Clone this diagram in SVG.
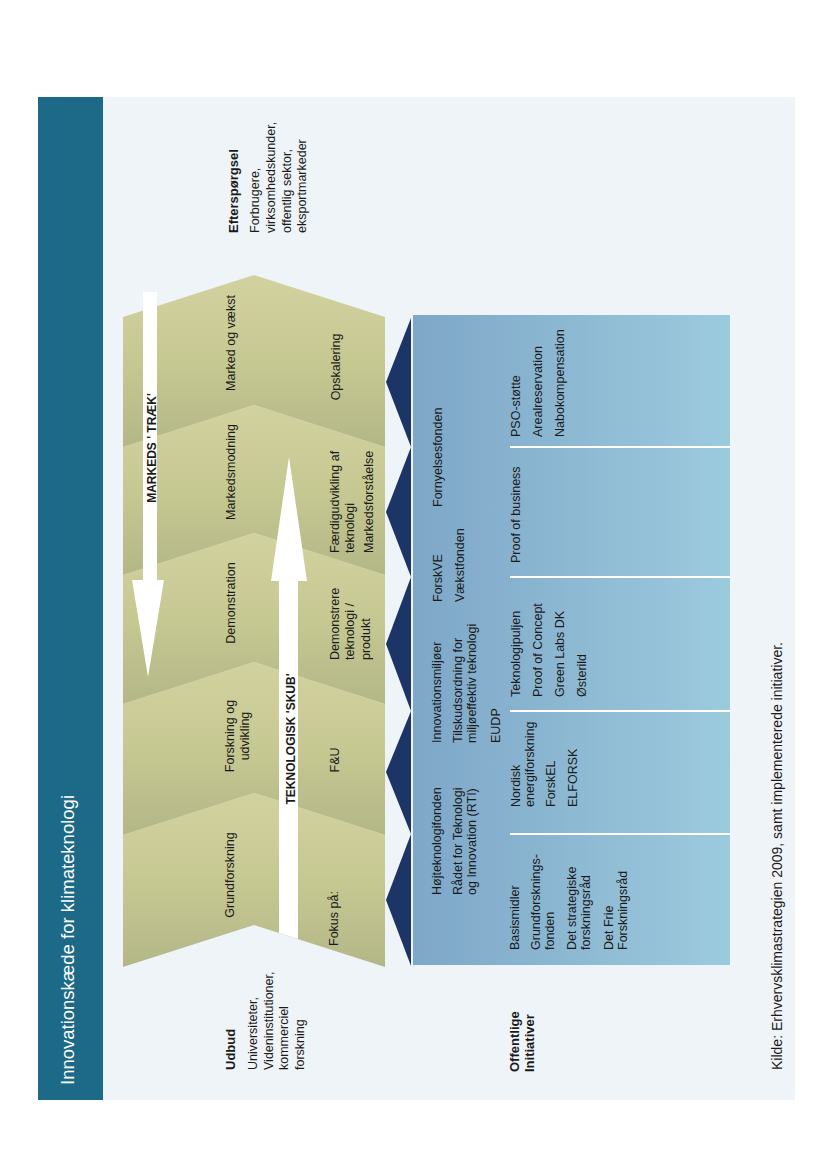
<svg xmlns="http://www.w3.org/2000/svg" width="826" height="1169" viewBox="0 0 826 1169">
<defs>
<linearGradient id="chev" x1="0" y1="0" x2="0" y2="1">
<stop offset="0" stop-color="#d2d29e"/>
<stop offset="0.55" stop-color="#c5c791"/>
<stop offset="1" stop-color="#b3b787"/>
</linearGradient>
<linearGradient id="boxg" x1="0" y1="0" x2="1" y2="0">
<stop offset="0" stop-color="#7ea7c8"/>
<stop offset="1" stop-color="#9ccadd"/>
</linearGradient>
<style>
.t{font-family:"Liberation Sans",Arial,sans-serif;font-size:12.5px;fill:#1a1a1a}
.b{font-weight:bold;font-size:13px}
.m{text-anchor:middle}
.title{fill:#ffffff;font-size:18.5px}
.foot{font-size:14px}
.chev{fill:url(#chev)}
.navy{fill:#1d3566}
.sep{stroke:#ffffff;stroke-width:2}
.arrow{fill:#ffffff}
</style>
</defs>
<rect x="0" y="0" width="826" height="1169" fill="#ffffff"/>
<rect x="103" y="97" width="692" height="1003" fill="#eef4f7"/>
<g id="header">
<rect x="38" y="97" width="65" height="1003" fill="#1c6a87"/>
</g>
<g id="stages">
<polygon id="stage-grundforskning" class="chev" points="123,967 254,925 385,967 385,835 254,793 123,835"/>
<polygon id="stage-forskning" class="chev" points="123,835 254,793 385,835 385,704 254,662 123,704"/>
<polygon id="stage-demonstration" class="chev" points="123,704 254,662 385,704 385,575 254,533 123,575"/>
<polygon id="stage-markedsmodning" class="chev" points="123,575 254,533 385,575 385,447 254,405 123,447"/>
<polygon id="stage-marked" class="chev" points="123,447 254,405 385,447 385,317 254,275 123,317"/>
</g>
<g id="connectors">
<g id="skub">
<polygon class="arrow" points="279,578 298,578 298,939 279,933"/>
<polygon class="arrow" points="271,581 289,457 307,581"/>
</g>
<g id="traek">
<rect class="arrow" x="143" y="292" width="14" height="290"/>
<polygon class="arrow" points="132,580 148,677 164,580"/>
</g>
</g>
<g id="initiatives">
<rect id="initiatives-box" x="413" y="315" width="317" height="650" fill="url(#boxg)"/>
<polygon class="navy" points="411,318 386,382 411,447"/>
<polygon class="navy" points="411,447 386,512 411,577"/>
<polygon class="navy" points="411,577 386,644 411,711"/>
<polygon class="navy" points="411,711 386,772 411,834"/>
<polygon class="navy" points="411,834 386,900 411,966"/>
<line class="sep" x1="510" y1="447" x2="730" y2="447"/>
<line class="sep" x1="510" y1="577" x2="730" y2="577"/>
<line class="sep" x1="510" y1="711" x2="730" y2="711"/>
<line class="sep" x1="510" y1="834" x2="730" y2="834"/>
</g>
<g id="labels" transform="translate(0,1169) rotate(-90)">
<g id="title-text"><text class="t title" x="84" y="74">Innovationskæde for klimateknologi</text></g>
<g id="efterspoergsel">
<text class="t b" x="936" y="238">Efterspørgsel</text>
<text class="t" x="936" y="259">Forbrugere,</text>
<text class="t" x="936" y="275">virksomhedskunder,</text>
<text class="t" x="936" y="291">offentlig sektor,</text>
<text class="t" x="936" y="306">eksportmarkeder</text>
</g>
<g id="udbud">
<text class="t b" x="99" y="235">Udbud</text>
<text class="t" x="99" y="257">Universiteter,</text>
<text class="t" x="99" y="273">Videninstitutioner,</text>
<text class="t" x="99" y="288">kommerciel</text>
<text class="t" x="99" y="304">forskning</text>
</g>
<g id="offentlige">
<text class="t b" x="97" y="519">Offentlige</text>
<text class="t b" x="97" y="534">Initiativer</text>
</g>
<g id="stage-labels">
<text class="t m" x="294" y="234">Grundforskning</text>
<text class="t m" x="433" y="234">Forskning og</text>
<text class="t m" x="433" y="249">udvikling</text>
<text class="t m" x="566" y="235">Demonstration</text>
<text class="t m" x="697" y="235">Markedsmodning</text>
<text class="t m" x="826" y="235">Marked og vækst</text>
</g>
<g id="arrow-labels">
<text class="t b m" x="721" y="156" style="font-size:12px">MARKEDS ' TRÆK'</text>
<text class="t b m" x="430" y="295" style="font-size:12px">TEKNOLOGISK 'SKUB'</text>
</g>
<g id="fokus-labels">
<text class="t" x="223" y="338">Fokus på:</text>
<text class="t m" x="409" y="339">F&amp;U</text>
<text class="t" x="509" y="339">Demonstrere</text>
<text class="t" x="509" y="354">teknologi /</text>
<text class="t" x="509" y="370">produkt</text>
<text class="t" x="616" y="339">Færdigudvikling af</text>
<text class="t" x="616" y="354">teknologi</text>
<text class="t" x="616" y="373">Markedsforståelse</text>
<text class="t m" x="802" y="340">Opskalering</text>
</g>
<g id="initiatives-upper">
<text class="t" x="274" y="441">Højteknologifonden</text>
<text class="t" x="274" y="462">Rådet for Teknologi</text>
<text class="t" x="274" y="476">og Innovation (RTI)</text>
<text class="t" x="426" y="441">Innovationsmiljøer</text>
<text class="t" x="426" y="462">Tilskudsordning for</text>
<text class="t" x="426" y="476">miljøeffektiv teknologi</text>
<text class="t" x="426" y="500">EUDP</text>
<text class="t" x="567" y="442">ForskVE</text>
<text class="t" x="567" y="464">Vækstfonden</text>
<text class="t" x="662" y="442">Fornyelsesfonden</text>
</g>
<g id="initiatives-lower">
<text class="t" x="219" y="519">Basismidler</text>
<text class="t" x="219" y="540">Grundforsknings-</text>
<text class="t" x="219" y="554">fonden</text>
<text class="t" x="219" y="576">Det strategiske</text>
<text class="t" x="219" y="590">forskningsråd</text>
<text class="t" x="219" y="613">Det Frie</text>
<text class="t" x="219" y="627">Forskningsråd</text>
<text class="t" x="362" y="520">Nordisk</text>
<text class="t" x="362" y="534">energiforskning</text>
<text class="t" x="362" y="555">ForskEL</text>
<text class="t" x="362" y="577">ELFORSK</text>
<text class="t" x="472" y="520">Teknologipuljen</text>
<text class="t" x="472" y="542">Proof of Concept</text>
<text class="t" x="472" y="564">Green Labs DK</text>
<text class="t" x="472" y="586">Østerild</text>
<text class="t" x="606" y="520">Proof of business</text>
<text class="t" x="732" y="520">PSO-støtte</text>
<text class="t" x="732" y="542">Arealreservation</text>
<text class="t" x="732" y="564">Nabokompensation</text>
</g>
<g id="footer"><text class="t foot" x="99" y="782">Kilde: Erhvervsklimastrategien 2009, samt implementerede initiativer.</text></g>
</g>
</svg>
